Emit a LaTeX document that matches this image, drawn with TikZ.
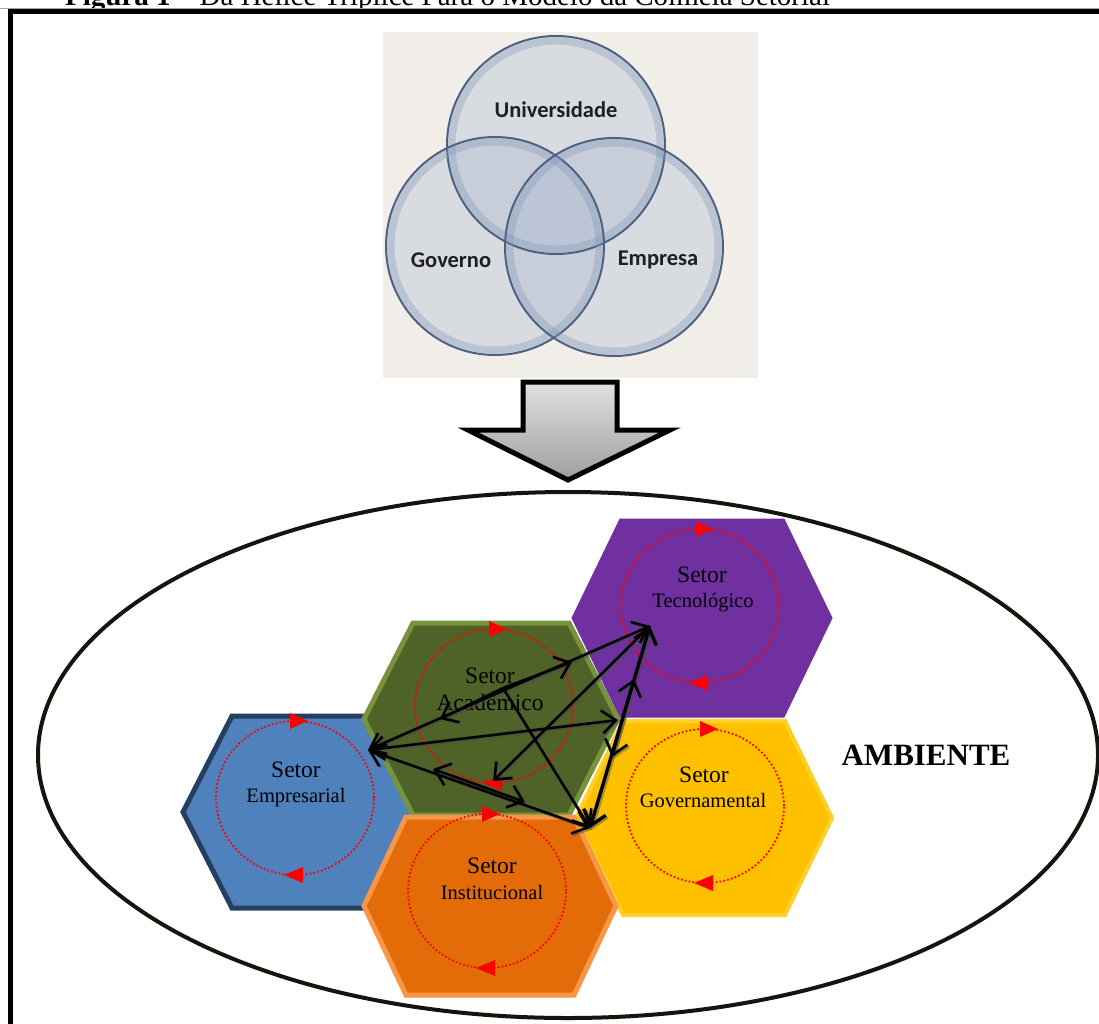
\documentclass[tikz,border=0pt]{standalone}
\usepackage{fontspec}
\setmainfont{Liberation Serif}
\newfontfamily\calibri{Carlito}
\usetikzlibrary{arrows.meta}
\definecolor{vennbg}{RGB}{241,237,233}
\definecolor{vennfill}{RGB}{160,178,204}
\definecolor{vennring}{RGB}{130,152,185}
\definecolor{vennline}{RGB}{78,98,128}
\definecolor{hexblue}{RGB}{79,129,189}
\definecolor{hexblueb}{RGB}{36,63,96}
\definecolor{hexgreen}{RGB}{79,98,40}
\definecolor{hexgreenb}{RGB}{119,147,60}
\definecolor{hexpurple}{RGB}{112,48,160}
\definecolor{hexgold}{RGB}{255,192,0}
\definecolor{hexgoldb}{RGB}{255,208,40}
\definecolor{hexorange}{RGB}{227,108,9}
\definecolor{hexorangeb}{RGB}{247,150,70}
\definecolor{ellcol}{RGB}{22,20,12}
\newcommand\hexshape[6]{\filldraw[#1] (#2-#4,#3) -- (#2-#5,#3-#6) -- (#2+#5,#3-#6) -- (#2+#4,#3) -- (#2+#5,#3+#6) -- (#2-#5,#3+#6) -- cycle;}
\newcommand\flowcircle[2]{%
  \draw[flowdot] (#1,#2) ellipse[x radius=79pt, y radius=77pt];
  \fill[red] (#1-5,#2-85) -- (#1+13,#2-77) -- (#1-5,#2-69) -- cycle;
  \fill[red] (#1+8,#2+69) -- (#1-11,#2+77) -- (#1+8,#2+85) -- cycle;}
\newcommand\arrownet{%
  \draw[<->] (PE) -- (PT);
  \draw[->] (PA) -- (QE);
  \draw[->] (PA) -- (QT);
  \draw[->] (PT) -- (QI);
  \draw[<->, line width=3.4pt] (PG) -- (PT);
  \draw[<->] (QGd) -- (QTu);
  \draw[<->] (PE) -- (QR);
  \draw[<->] (PE) -- (PG);
  \draw[<->] (QEl) -- (QGr);
  \draw[->] (PA) -- (PG);}
\begin{document}
\begin{tikzpicture}[x=1pt,y=-1pt,
  flowdot/.style={red, line width=1.8pt, dash pattern=on 1.8pt off 2.1pt},
  net/.style={black, line width=2.6pt, >={Straight Barb[length=14pt,width=23pt]}},
  setor/.style={anchor=base, text=black, inner sep=0pt, font=\fontsize{23.5}{24}\selectfont},
  sector/.style={anchor=base, text=black, inner sep=0pt, font=\fontsize{20.5}{22}\selectfont},
  vennlabel/.style={text=black!88, inner sep=0pt, font=\calibri\bfseries\fontsize{22.5}{24}\selectfont}]
\useasboundingbox (0,0) rectangle (1099,1023);
\clip (0,0) rectangle (1099,1023);
\fill[white] (0,0) rectangle (1099,1023);

% title (cut off at top, as in the reference) and frame
\node[anchor=base west, inner sep=0pt, font=\fontsize{29}{30}\selectfont] (title) at (65,5) {\textbf{Figura 1} – Da Hélice Tríplice Para o Modelo da Colmeia Setorial};
\draw[black!35, line width=1pt] (0,8) -- (1099,8);
\draw[black, line width=5pt] (10,11.5) rectangle (1120,1060);

% Venn diagram
\fill[vennbg] (383,32) rectangle (758,378);
\foreach \cx/\cy in {556/145, 495/246, 614/247}{
  \fill[vennfill, opacity=0.30] (\cx,\cy) circle[radius=109pt];
}
\foreach \cx/\cy in {556/145, 495/246, 614/247}{
  \draw[vennring, opacity=0.35, line width=7pt] (\cx,\cy) circle[radius=104pt];
  \draw[vennline, line width=2pt] (\cx,\cy) circle[radius=109pt];
}
\node[vennlabel] (univ) at (556,110) {Universidade};
\node[vennlabel] (gov) at (451,260) {Governo};
\node[vennlabel] (emp) at (658,260) {Empresa};

% big down arrow
\shadedraw[top color=black!12, bottom color=black!38, draw=black, line width=5pt, line join=miter]
  (523,382) -- (617,382) -- (617,430) -- (670,430) -- (568,480) -- (468,430) -- (523,430) -- cycle;

% environment ellipse
\draw[ellcol, line width=4pt] (568,755) ellipse[x radius=530pt, y radius=263pt];
\node[font=\bfseries\fontsize{31}{32}\selectfont, inner sep=0pt] (amb) at (926,755) {AMBIENTE};

% hexagons
\hexshape{fill=hexpurple, draw=hexpurple, line width=1pt}{702}{618}{130}{82}{99}
\hexshape{fill=hexgold, draw=hexgoldb, line width=4pt}{704}{818}{128}{81}{97}
\hexshape{fill=hexblue, draw=hexblueb, line width=5pt}{310}{812}{127}{78}{96}
\hexshape{fill=hexgreen, draw=hexgreenb, line width=5pt}{491}{719}{127}{78}{96}
\hexshape{fill=hexorange, draw=hexorangeb, line width=5pt}{490}{906}{126}{84}{89}

% circulating flows
\flowcircle{295}{798}
\flowcircle{494}{706}
\flowcircle{700}{606}
\flowcircle{705}{806}
\flowcircle{487}{891}

% sector labels
\node[setor] (s1) at (296,777) {Setor};
\node[sector] (n1) at (296,802) {Empresarial};
\node[setor] (s2) at (490,683) {Setor};
\node[setor] (n2) at (490,710) {Acadêmico};
\node[setor] (s3) at (702,582) {Setor};
\node[sector] (n3) at (703,607) {Tecnológico};
\node[setor] (s4) at (704,782) {Setor};
\node[sector] (n4) at (703,807) {Governamental};
\node[setor] (s5) at (492,873) {Setor};
\node[sector] (n5) at (492,899) {Institucional};

% interaction network
\coordinate (PE) at (368,750);
\coordinate (PT) at (650,626);
\coordinate (PG) at (590,828);
\coordinate (PA) at (503,688);
\coordinate (QE) at (440,719);
\coordinate (QT) at (572,662);
\coordinate (QI) at (493,781);
\coordinate (QR) at (618,720);
\coordinate (QGd) at (612,757);
\coordinate (QTu) at (634,679);
\coordinate (QEl) at (433,769);
\coordinate (QGr) at (525,802);
\begin{scope}[net, black!70, opacity=0.45, transform canvas={xshift=1.8pt,yshift=-1.8pt}]
  \arrownet
\end{scope}
\begin{scope}[net]
  \arrownet
\end{scope}
\end{tikzpicture}
\end{document}
